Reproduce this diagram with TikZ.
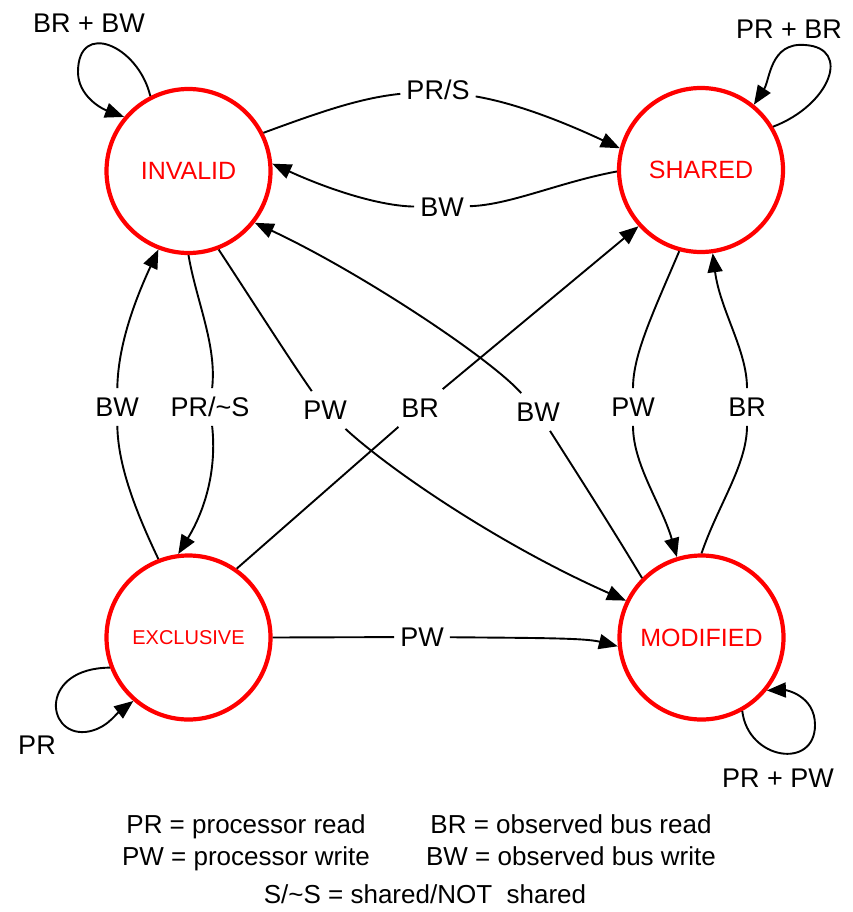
\documentclass[tikz,border=0pt]{standalone}
\usepackage{fontspec}
\setmainfont{Liberation Sans}
\usetikzlibrary{arrows.meta}
\begin{document}
\begin{tikzpicture}[x=1pt,y=-1pt,
  state/.style={circle, draw=red, line width=4.2pt, minimum size=164pt, inner sep=0pt,
                text=red, font=\fontsize{25}{28}\selectfont},
  lbl/.style={inner xsep=6pt, inner ysep=9pt, text height=19.4pt, text depth=0pt,
              font=\fontsize{27}{30}\selectfont},
  link/.style={line width=1.9pt, -{Triangle[length=19pt,width=15pt]}},
  legend/.style={anchor=base, font=\fontsize{26}{30}\selectfont}]
\useasboundingbox (0,0) rectangle (853,912);

% states
\node[state] (I) at (188.5,171) {INVALID};
\node[state] (S) at (701,170) {SHARED};
\node[state, font=\fontsize{20}{24}\selectfont] (E) at (188.5,637.5) {EXCLUSIVE};
\node[state] (M) at (701.5,637.5) {MODIFIED};

% transition labels
\node[lbl] (lPRS)  at (438,90)  {PR/S};
\node[lbl] (lBWt)  at (442,207) {BW};
\node[lbl] (lBWl)  at (117,407) {BW};
\node[lbl] (lPRnS) at (210,407) {PR/\textasciitilde S};
\node[lbl] (lPWa)  at (325,410) {PW};
\node[lbl] (lBRm)  at (420,408) {BR};
\node[lbl] (lBWm)  at (538,412) {BW};
\node[lbl] (lPWr)  at (633,407) {PW};
\node[lbl] (lBRr)  at (747,407) {BR};
\node[lbl] (lPWb)  at (422,637) {PW};

% self-loop labels
\node[lbl] (lI) at (89,23)   {BR + BW};
\node[lbl] (lS) at (789,29)  {PR + BR};
\node[lbl] (lE) at (37,745)  {PR};
\node[lbl] (lM) at (778,778) {PR + PW};

% transitions between states
\draw[link] (I.27) .. controls (320,112) and (360,98) .. (lPRS)
            .. controls (520,104) and (570,125) .. (S.165);
\draw[link] (S.181) .. controls (560,182) and (510,205) .. (lBWt)
            .. controls (380,206) and (330,190) .. (I.5);
\draw[link] (I.270) .. controls (196,300) and (217,345) .. (lPRnS)
            .. controls (217,470) and (205,510) .. (E.97);
\draw[link] (E.111) .. controls (135,510) and (118,465) .. (lBWl)
            .. controls (118,345) and (135,300) .. (I.249);
\draw[link] (I.291) .. controls (255,305) and (290,360) .. (lPWa)
            .. controls (390,470) and (500,545) .. (M.154);
\draw[link] (E.55) -- (lBRm) -- (S.222);
\draw[link] (M.135.5) .. controls (612,528) and (580,478) .. (lBWm)
            .. controls (490,358) and (360,272) .. (I.-38);
\draw[link] (S.255) .. controls (652,315) and (633,355) .. (lPWr)
            .. controls (633,465) and (662,505) .. (M.107.6);
\draw[link] (M.90) .. controls (718,505) and (747,465) .. (lBRr)
            .. controls (747,350) and (720,310) .. (S.278);
\draw[link] (E.0) -- (lPWb) .. controls (540,638) and (585,638) .. (M.186);

% self loops
\draw[link] (I.117) .. controls (138,45) and (78,20) .. (78,72)
            .. controls (78,95) and (100,108) .. (I.140);
\draw[link] (S.31) .. controls (830,105) and (852,48) .. (805,45)
            .. controls (770,42) and (770,80) .. (S.51);
\draw[link] (E.201) .. controls (40,668) and (45,735) .. (85,732)
            .. controls (105,730) and (115,715) .. (E.229);
\draw[link] (M.299) .. controls (748,760) and (815,770) .. (815,725)
            .. controls (815,695) and (785,690) .. (M.321);

% legend
\node[legend] (k1) at (246,833) {PR = processor read};
\node[legend] (k2) at (571,833) {BR = observed bus read};
\node[legend] (k3) at (246,865) {PW = processor write};
\node[legend] (k4) at (571,865) {BW = observed bus write};
\node[legend] (k5) at (425,903) {S/\textasciitilde S = shared/NOT\ \ shared};
\end{tikzpicture}
\end{document}
